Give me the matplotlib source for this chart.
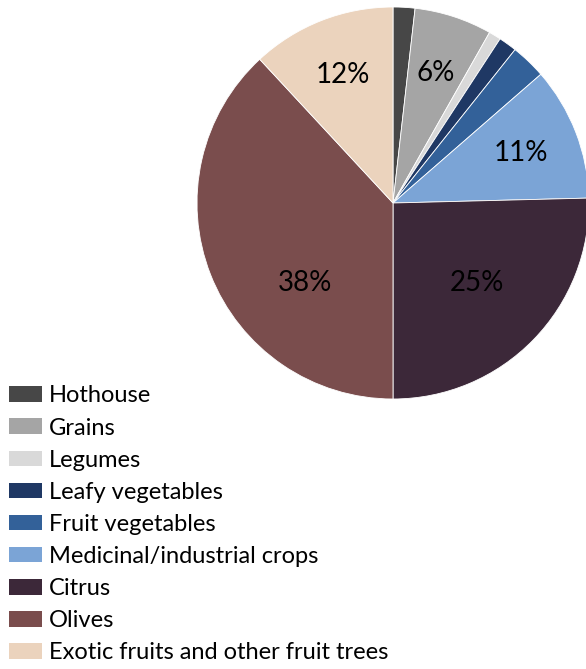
import matplotlib
matplotlib.use("Agg")
import matplotlib.pyplot as plt
from matplotlib.patches import Patch

categories = ["Hothouse", "Grains", "Legumes", "Leafy vegetables", "Fruit vegetables",
              "Medicinal/industrial crops", "Citrus", "Olives", "Exotic fruits and other fruit trees"]
values = [1.8, 6.4, 1.0, 1.5, 2.9, 11.0, 25.4, 38.1, 11.9]
colors = ["#474747", "#a5a5a5", "#d9d9d9", "#1f3864", "#336199",
          "#7ba4d6", "#3c2839", "#7a4d4d", "#ebd3bd"]

plt.rcParams['font.family'] = ['Lato', 'DejaVu Sans']

fig = plt.figure(figsize=(5.86, 6.69), dpi=100)
ax = fig.add_axes([197/586, 1-399/669, 392/586, 392/669])

def fmt(p):
    return f"{p:.0f}%" if p >= 5 else ""

wedges, texts, autotexts = ax.pie(values, colors=colors, startangle=90, counterclock=False,
                                  autopct=fmt, pctdistance=0.7, radius=1,
                                  wedgeprops=dict(linewidth=0.6, edgecolor="white"),
                                  textprops=dict(fontsize=20, color="black"))
ax.set_xlim(-1, 1)
ax.set_ylim(-1, 1)
ax.set_aspect("equal")
ax.axis("off")
for a in autotexts:
    a.set_va("center")
# Olives and citrus labels sit lower than the wedge midpoints in the reference
autotexts[7].set_position((-0.45, -0.41))
autotexts[6].set_position((0.43, -0.41))

handles = [Patch(facecolor=c, edgecolor="none") for c in colors]
fig.legend(handles, categories, loc="upper left", bbox_to_anchor=(0.0, 1-376/669),
           frameon=False, fontsize=17, handlelength=1.38, handleheight=0.64,
           handletextpad=0.28, labelspacing=0.47, borderaxespad=0, borderpad=0.4)

fig.savefig("out.png", dpi=100)
